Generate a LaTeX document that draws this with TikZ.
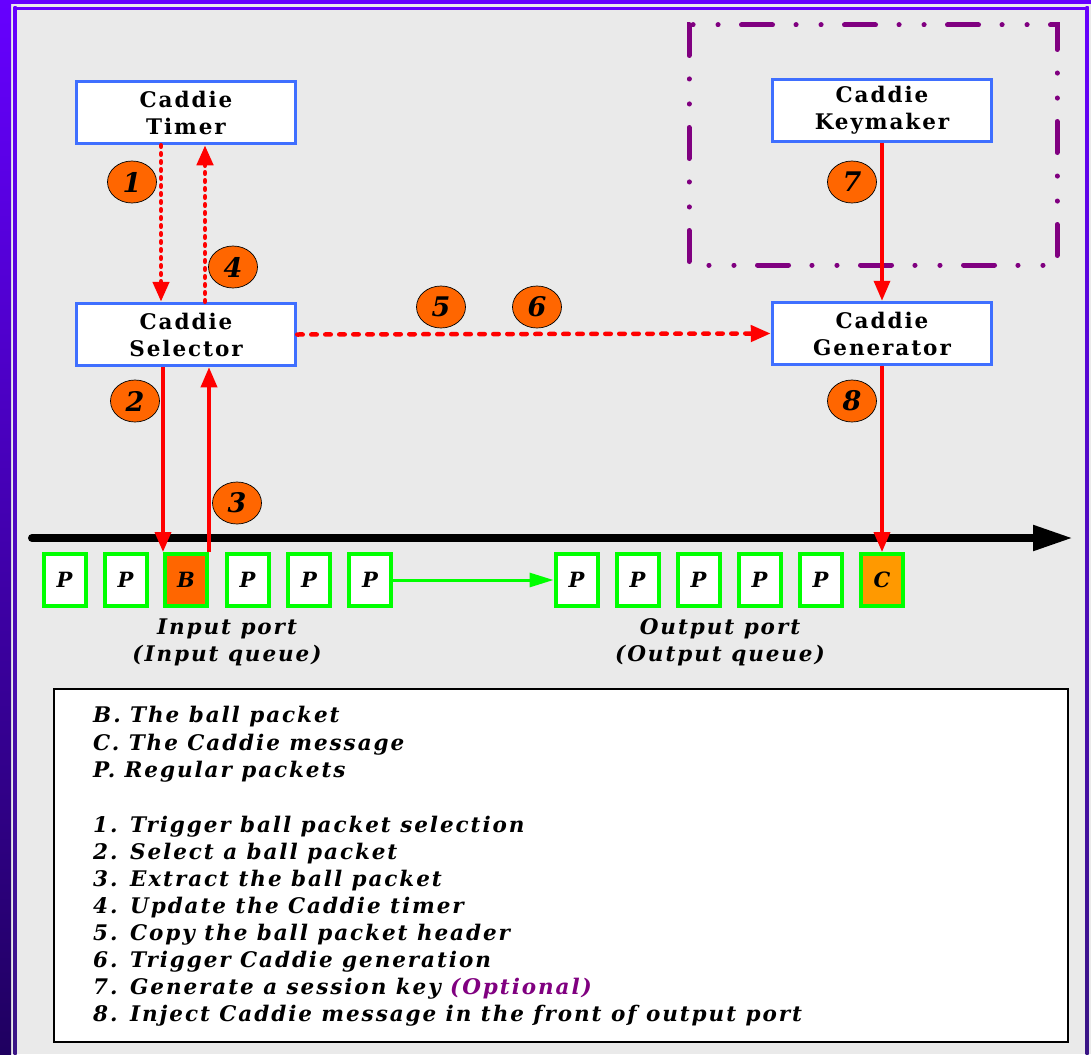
\documentclass[tikz,border=0pt]{standalone}
\usepackage{fontspec}
\setmainfont{DejaVu Serif}
\newfontfamily\spacedserif[LetterSpace=9]{DejaVu Serif}
\usetikzlibrary{arrows.meta,shapes.geometric,calc}

\definecolor{bggray}{HTML}{EAEAEA}
\definecolor{frametop}{HTML}{6600FF}
\definecolor{framebot}{HTML}{1F0060}
\definecolor{linebot}{HTML}{3A1585}
\definecolor{boxblue}{HTML}{3F6FFF}
\definecolor{badgeorange}{HTML}{FF6600}
\definecolor{ballorange}{HTML}{FF6600}
\definecolor{caddieorange}{HTML}{FF9900}
\definecolor{pktgreen}{HTML}{00FF00}
\definecolor{linkred}{HTML}{FF0000}
\definecolor{optpurple}{HTML}{800080}

\tikzset{
  proc/.style={draw=boxblue, line width=3.5pt, fill=white,
    minimum width=219pt, minimum height=62pt, inner sep=0pt, align=center,
    font=\spacedserif\bfseries\fontsize{21.5}{27}\selectfont},
  pkt/.style={draw=pktgreen, line width=4pt, fill=white,
    minimum width=42pt, minimum height=52pt, inner sep=0pt,
    font=\bfseries\itshape\fontsize{21}{24}\selectfont},
  badge/.style={ellipse, draw=black, line width=0.7pt, fill=badgeorange,
    minimum width=49pt, minimum height=42pt, inner sep=0pt,
    font=\bfseries\itshape\fontsize{27}{27}\selectfont},
  solidlink/.style={draw=linkred, line width=3.5pt,
    -{Triangle[length=20pt,width=16pt]}},
  dottedlink/.style={draw=linkred, line width=4.5pt, line cap=round,
    dash pattern=on 1.5pt off 6.5pt,
    -{Triangle[length=20pt,width=16pt]}},
  dottedlinkh/.style={draw=linkred, line width=4.5pt, line cap=round,
    dash pattern=on 5.5pt off 8.5pt,
    -{Triangle[length=20pt,width=16pt]}},
  portlabel/.style={align=center, inner sep=0pt,
    font=\spacedserif\bfseries\itshape\fontsize{21.5}{27}\selectfont},
  legendline/.style={anchor=base west, inner sep=0pt,
    font=\spacedserif\bfseries\itshape\fontsize{21.5}{27}\selectfont},
}

\begin{document}
\begin{tikzpicture}[x=1pt,y=-1pt]
\useasboundingbox (0,0) rectangle (1091,1054);

% slide background and frame
\fill[bggray] (0,0) rectangle (1091,1054);
\shade[top color=frametop, bottom color=framebot] (0,0) rectangle (11,1054);
\fill[frametop] (0,0) rectangle (1091,4);
\shade[top color=frametop, bottom color=linebot] (13.5,7) rectangle (16.5,1054);
\fill[frametop] (13.5,7) rectangle (1088.5,10);
\shade[top color=frametop, bottom color=linebot] (1085.5,7) rectangle (1088.5,1054);

% optional key-making region
\draw[optpurple, line width=5pt, line cap=round,
      dash pattern=on 0.1pt off 24.9pt on 0.1pt off 23.4pt on 31pt off 23.5pt]
  (693,25) -- (1057,25) -- (1057,265) -- (689,265) -- (689,25) -- cycle;

% processing blocks
\node[proc] (tim) at (186,112.5) {Caddie\\Timer};
\node[proc] (sel) at (186,334.5) {Caddie\\Selector};
\node[proc] (key) at (882,110.5) {Caddie\\Keymaker};
\node[proc] (gen) at (882,333.5) {Caddie\\Generator};

% packet line
\coordinate (axL) at (32,538);
\coordinate (axR) at (1073,538);
\draw[line width=8pt, line cap=round,
      -{Triangle[length=40pt,width=24pt]}] (axL) -- (axR);

% input queue
\node[pkt] (i1) at (64.5,580) {P};
\node[pkt] (i2) at (125.5,580) {P};
\node[pkt, fill=ballorange] (ib) at (186,580) {B};
\node[pkt] (i4) at (247.5,580) {P};
\node[pkt] (i5) at (309,580) {P};
\node[pkt] (i6) at (370,580) {P};

% output queue
\node[pkt] (o1) at (576.5,580) {P};
\node[pkt] (o2) at (637.5,580) {P};
\node[pkt] (o3) at (698.5,580) {P};
\node[pkt] (o4) at (759.5,580) {P};
\node[pkt] (o5) at (820.5,580) {P};
\node[pkt, fill=caddieorange] (oc) at (882,580) {C};

\draw[draw=pktgreen, line width=3pt,
      -{Triangle[length=24pt,width=14pt]}] (i6.east) -- (o1.west);

\node[portlabel] (inlab) at (227,642) {Input port\\(Input queue)};
\node[portlabel] (outlab) at (720,642) {Output port\\(Output queue)};

% links between blocks
\coordinate (colA) at (161,0);
\coordinate (colB) at (205,0);
\draw[dottedlink] (tim.south -| colA) -- (sel.north -| colA);
\draw[dottedlink] (sel.north -| colB) -- (tim.south -| colB);
\draw[solidlink] (sel.south -| ib.north west) -- (ib.north west);
\draw[solidlink] (ib.north east) -- (sel.south -| ib.north east);
\draw[dottedlinkh] (sel.east) -- (gen.west);
\draw[solidlink] (key.south) -- (gen.north);
\draw[solidlink] (gen.south) -- (oc.north);

% step numbers
\node[badge] (n1) at (132,182) {1};
\node[badge] (n2) at (135,401) {2};
\node[badge] (n3) at (237,503) {3};
\node[badge] (n4) at (233,267) {4};
\node[badge] (n5) at (441,307) {5};
\node[badge] (n6) at (537,307) {6};
\node[badge] (n7) at (852,182) {7};
\node[badge] (n8) at (852,401) {8};

% legend
\node[draw=black, line width=1.5pt, fill=white, minimum width=1014pt,
      minimum height=353pt, inner sep=0pt] (legend) at (561,865.5) {};
\node[legendline] (l1) at (93,722.5) {B. The ball packet};
\node[legendline] (l2) at (93,750) {C. The Caddie message};
\node[legendline] (l3) at (93,777.5) {P. Regular packets};
\node[legendline] (l4) at (93,832) {1. Trigger ball packet selection};
\node[legendline] (l5) at (93,859.5) {2. Select a ball packet};
\node[legendline] (l6) at (93,886.5) {3. Extract the ball packet};
\node[legendline] (l7) at (93,913.5) {4. Update the Caddie timer};
\node[legendline] (l8) at (93,940.5) {5. Copy the ball packet header};
\node[legendline] (l9) at (93,967.5) {6. Trigger Caddie generation};
\node[legendline] (l10) at (93,994.5) {7. Generate a session key \textcolor{optpurple}{(Optional)}};
\node[legendline] (l11) at (93,1021.5) {8. Inject Caddie message in the front of output port};
\end{tikzpicture}
\end{document}
